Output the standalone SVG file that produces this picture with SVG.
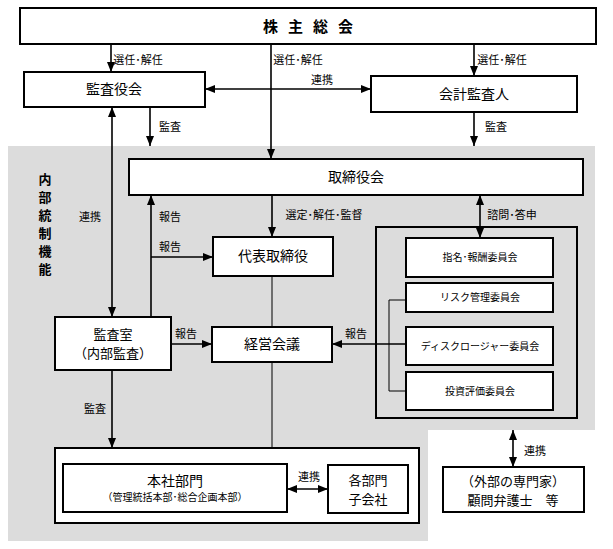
<svg xmlns="http://www.w3.org/2000/svg" width="613" height="549" viewBox="0 0 613 549">
<style>
text{font-family:"Noto Sans CJK JP","Noto Sans",sans-serif;fill:#000;text-anchor:middle}
.box{fill:#fff;stroke:#000;stroke-width:2}
.t{font-size:14px}
.t2{font-size:13px}
.l{font-size:11px}
.s{font-size:10px}
.v{font-size:13px;font-weight:bold}
.ln{stroke:#000;stroke-width:1.6;fill:none}
.th{stroke:#000;stroke-width:1;fill:none}
</style>
<defs>
<marker id="b" viewBox="0 0 10 10" refX="10" refY="5" markerWidth="10" markerHeight="10" orient="auto-start-reverse" markerUnits="userSpaceOnUse"><path d="M0,1 L10,5 L0,9 z" fill="#000"/></marker>
</defs>
<rect width="613" height="549" fill="#fff"/>
<path d="M8,146 H595 V430 H428 V541 H8 Z" fill="#dcdcdc"/>
<g id="honsha-outer"><rect class="box" x="55" y="448" width="364" height="75"/></g>
<g id="iinkai"><rect x="376" y="227" width="201" height="191" fill="none" stroke="#000" stroke-width="2"/></g>
<g id="connectors">
<line class="ln" x1="111" y1="44" x2="111" y2="72" marker-end="url(#b)"/>
<line class="ln" x1="271" y1="44" x2="271" y2="159" marker-end="url(#b)"/>
<line class="ln" x1="474" y1="44" x2="474" y2="76" marker-end="url(#b)"/>
<line class="ln" x1="205" y1="89" x2="371" y2="89" marker-start="url(#b)" marker-end="url(#b)"/>
<line class="ln" x1="150" y1="107" x2="150" y2="146" marker-end="url(#b)"/>
<line class="ln" x1="474" y1="112" x2="474" y2="146" marker-end="url(#b)"/>
<line class="ln" x1="112" y1="107" x2="112" y2="317" marker-start="url(#b)" marker-end="url(#b)"/>
<line class="ln" x1="151" y1="317" x2="151" y2="195" marker-end="url(#b)"/>
<line class="ln" x1="151" y1="257" x2="213" y2="257" marker-end="url(#b)"/>
<line class="ln" x1="272" y1="195" x2="272" y2="237" marker-end="url(#b)"/>
<line class="ln" x1="480" y1="195" x2="480" y2="238" marker-start="url(#b)" marker-end="url(#b)"/>
<line class="th" x1="272" y1="276" x2="272" y2="327"/>
<line class="th" x1="272" y1="362" x2="272" y2="448"/>
<line class="ln" x1="171" y1="344" x2="212" y2="344" marker-end="url(#b)"/>
<path class="th" d="M406,300 H389 V391 H406"/>
<line class="ln" x1="406" y1="344" x2="332" y2="344" marker-end="url(#b)"/>
<line class="ln" x1="112" y1="370" x2="112" y2="448" marker-end="url(#b)"/>
<line class="ln" x1="287" y1="489" x2="328" y2="489" marker-start="url(#b)" marker-end="url(#b)"/>
<line class="ln" x1="513" y1="430" x2="513" y2="467" marker-start="url(#b)" marker-end="url(#b)"/>
</g>
<g id="labels">
<text class="l" x="138" y="64">選任･解任</text>
<text class="l" x="298" y="64">選任･解任</text>
<text class="l" x="502" y="64">選任･解任</text>
<text class="l" x="322" y="84">連携</text>
<text class="l" x="170" y="131">監査</text>
<text class="l" x="496" y="131">監査</text>
<text class="l" x="90" y="221">連携</text>
<text class="l" x="170" y="221">報告</text>
<text class="l" x="170" y="251">報告</text>
<text class="l" x="324" y="219">選定･解任･監督</text>
<text class="l" x="512" y="219">諮問･答申</text>
<text class="l" x="186" y="338">報告</text>
<text class="l" x="356" y="338">報告</text>
<text class="l" x="95" y="413">監査</text>
<text class="l" x="309" y="481">連携</text>
<text class="l" x="535" y="455">連携</text>
</g>
<g id="naibu">
<text class="v" x="45" y="184">内</text>
<text class="v" x="45" y="202">部</text>
<text class="v" x="45" y="220">統</text>
<text class="v" x="45" y="238">制</text>
<text class="v" x="45" y="256">機</text>
<text class="v" x="45" y="274">能</text>
</g>
<g id="kabunushi"><rect class="box" x="20" y="8" width="576" height="36"/><text x="313" y="32" font-size="15" font-weight="bold" letter-spacing="10">株主総会</text></g>
<g id="kansayakukai"><rect class="box" x="24" y="72" width="181" height="35"/><text class="t" x="114" y="94">監査役会</text></g>
<g id="kaikei"><rect class="box" x="371" y="76" width="206" height="36"/><text class="t" x="474" y="99">会計監査人</text></g>
<g id="torishimariyakukai"><rect class="box" x="129" y="159" width="454" height="36"/><text class="t" x="356" y="182">取締役会</text></g>
<g id="daihyo"><rect class="box" x="213" y="237" width="120" height="39"/><text class="t" x="273" y="261">代表取締役</text></g>
<g id="kansashitsu"><rect class="box" x="55" y="317" width="116" height="53"/><text class="t2" x="113" y="339">監査室</text><text class="t2" x="113" y="358">（内部監査）</text></g>
<g id="keiei"><rect class="box" x="212" y="327" width="120" height="35"/><text class="t" x="272" y="349">経営会議</text></g>
<g id="shimei"><rect class="box" x="406" y="238" width="147" height="39"/><text class="s" x="480" y="261">指名･報酬委員会</text></g>
<g id="risk"><rect class="box" x="406" y="283" width="147" height="29"/><text class="s" x="480" y="301">リスク管理委員会</text></g>
<g id="disclosure"><rect class="box" x="406" y="327" width="147" height="38"/><text class="s" x="480" y="350">ディスクロージャー委員会</text></g>
<g id="toshi"><rect class="box" x="406" y="372" width="147" height="38"/><text class="s" x="480" y="395">投資評価委員会</text></g>
<g id="honsha"><rect class="box" x="63" y="464" width="224" height="48"/><text class="t" x="175" y="486">本社部門</text><text class="s" x="175" y="501">（管理統括本部･総合企画本部）</text></g>
<g id="kakubumon"><rect class="box" x="328" y="465" width="80" height="48"/><text class="t2" x="368" y="485">各部門</text><text class="t2" x="368" y="504">子会社</text></g>
<g id="gaibu"><rect class="box" x="443" y="467" width="141" height="45"/><text class="t2" x="513" y="486">（外部の専門家）</text><text class="t2" x="513" y="505">顧問弁護士　等</text></g>
</svg>
